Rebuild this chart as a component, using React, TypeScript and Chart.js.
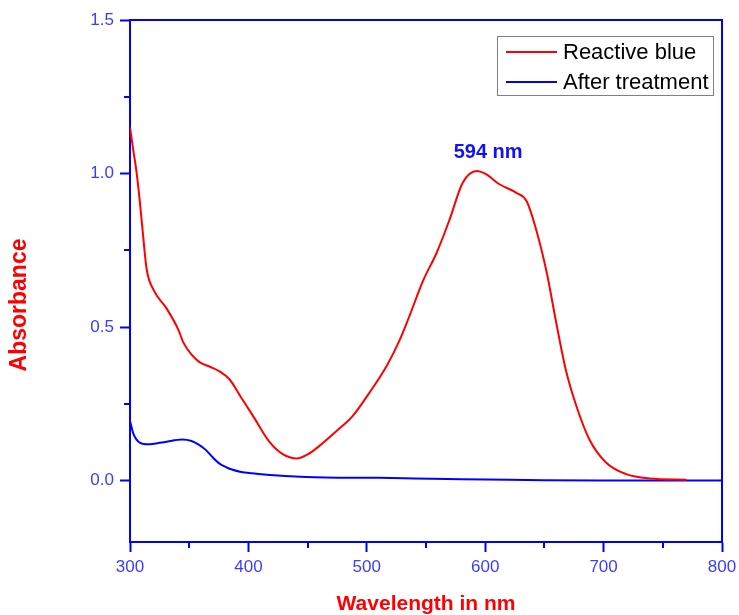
import React, { useEffect, useRef } from "react";
import { Chart, registerables } from "chart.js";

Chart.register(...registerables);

// ---- data ----
const redWavelength = [300, 303, 305, 308, 311, 314, 320, 331, 341, 345, 352, 359, 368, 376, 384, 394, 404, 418, 429, 441, 450, 460, 474, 488, 502, 517, 528, 536, 548, 559, 570, 581, 593, 601, 612, 626, 635, 643, 652, 660, 668, 677, 688, 702, 719, 739, 770];
const redAbsorbance = [1.15, 1.07, 1.02, 0.92, 0.8, 0.69, 0.62, 0.56, 0.49, 0.45, 0.41, 0.385, 0.37, 0.355, 0.33, 0.27, 0.21, 0.125, 0.086, 0.072, 0.085, 0.113, 0.16, 0.21, 0.285, 0.375, 0.46, 0.536, 0.655, 0.742, 0.851, 0.97, 1.008, 0.997, 0.965, 0.938, 0.91, 0.818, 0.677, 0.514, 0.362, 0.243, 0.134, 0.059, 0.021, 0.007, 0.003];

const blueWavelength = [300, 303, 308, 315, 322, 330, 344, 352, 358, 364, 370, 375, 381, 386, 394, 403, 431, 465, 510, 540, 580, 620, 650, 700, 800];
const blueAbsorbance = [0.194, 0.151, 0.124, 0.118, 0.121, 0.126, 0.134, 0.129, 0.117, 0.1, 0.075, 0.057, 0.044, 0.036, 0.028, 0.024, 0.015, 0.01, 0.009, 0.007, 0.004, 0.003, 0.001, 0.0, 0.0];

const seriesNames = ["Reactive blue", "After treatment"];
const seriesColors = ["#ff0000", "#0000ff"];

const xMajorTicks = [300, 400, 500, 600, 700, 800];
const xMinorTicks = [350, 450, 550, 650, 750];
const yMajorTicks = [0.0, 0.5, 1.0, 1.5];
const yMinorTicks = [0.25, 0.75, 1.25];

const peakWavelength = 594;
const peakLabel = "594 nm";
const xTitle = "Wavelength in nm";
const yTitle = "Absorbance";

const AXIS = "#0000ff";
const TICKTEXT = "#3c3cff";
const FONT = "'Liberation Sans', Arial, sans-serif";

const decorPlugin = {
  id: "decor",
  afterDraw(chart: any) {
    const { ctx, chartArea } = chart;
    const xs = chart.scales.x;
    const ys = chart.scales.y;
    ctx.save();
    // top and right frame
    ctx.strokeStyle = AXIS;
    ctx.lineWidth = 2;
    ctx.beginPath();
    ctx.moveTo(chartArea.left, chartArea.top);
    ctx.lineTo(chartArea.right, chartArea.top);
    ctx.lineTo(chartArea.right, chartArea.bottom);
    ctx.stroke();
    // minor ticks
    ctx.beginPath();
    for (const v of xMinorTicks) {
      const px = Math.round(xs.getPixelForValue(v));
      ctx.moveTo(px, chartArea.bottom);
      ctx.lineTo(px, chartArea.bottom + 6);
    }
    for (const v of yMinorTicks) {
      const py = Math.round(ys.getPixelForValue(v));
      ctx.moveTo(chartArea.left, py);
      ctx.lineTo(chartArea.left - 6, py);
    }
    ctx.stroke();

    // peak label
    ctx.fillStyle = "#1010ff";
    ctx.font = `bold 20px ${FONT}`;
    ctx.textAlign = "center";
    ctx.textBaseline = "middle";
    ctx.fillText(peakLabel, xs.getPixelForValue(peakWavelength) + 10, ys.getPixelForValue(1.07));

    // axis titles
    ctx.fillStyle = "#ff0000";
    ctx.font = `bold 21px ${FONT}`;
    ctx.fillText(xTitle, (chartArea.left + chartArea.right) / 2, 604);
    ctx.save();
    ctx.font = `bold 23px ${FONT}`;
    ctx.translate(20, (chartArea.top + chartArea.bottom) / 2 + 24);
    ctx.rotate(-Math.PI / 2);
    ctx.fillText(yTitle, 0, 0);
    ctx.restore();

    // legend
    const boxRight = chartArea.right - 9;
    const boxLeft = boxRight - 216;
    const boxTop = chartArea.top + 16;
    const boxH = 59;
    ctx.fillStyle = "#ffffff";
    ctx.fillRect(boxLeft, boxTop, 216, boxH);
    ctx.strokeStyle = "#808080";
    ctx.lineWidth = 1;
    ctx.strokeRect(boxLeft + 0.5, boxTop + 0.5, 216, boxH);
    ctx.font = `22px ${FONT}`;
    ctx.textAlign = "left";
    ctx.textBaseline = "middle";
    chart.data.datasets.forEach((ds: any, i: number) => {
      const y = boxTop + 16 + i * 30;
      ctx.strokeStyle = ds.borderColor;
      ctx.lineWidth = 2;
      ctx.beginPath();
      ctx.moveTo(boxLeft + 9, y);
      ctx.lineTo(boxLeft + 60, y);
      ctx.stroke();
      ctx.fillStyle = "#000000";
      ctx.fillText(ds.label, boxLeft + 66, y + 1);
    });
    ctx.restore();
  },
};

export default function App() {
  const ref = useRef<HTMLCanvasElement | null>(null);
  useEffect(() => {
    document.body.style.margin = "0";
    const canvas = ref.current!;
    const chart = new Chart(canvas, {
      type: "line",
      data: {
        datasets: [
          {
            label: seriesNames[0],
            data: redWavelength.map((x, i) => ({ x, y: redAbsorbance[i] })),
            borderColor: seriesColors[0],
            borderWidth: 2,
            pointRadius: 0,
            cubicInterpolationMode: "monotone",
            fill: false,
          },
          {
            label: seriesNames[1],
            data: blueWavelength.map((x, i) => ({ x, y: blueAbsorbance[i] })),
            borderColor: seriesColors[1],
            borderWidth: 2,
            pointRadius: 0,
            cubicInterpolationMode: "monotone",
            fill: false,
          },
        ],
      },
      options: {
        responsive: false,
        animation: false,
        layout: { padding: { top: 20, right: 17, left: 0, bottom: 0 } },
        plugins: { legend: { display: false }, tooltip: { enabled: false } },
        scales: {
          x: {
            type: "linear",
            min: 300,
            max: 800,
            afterBuildTicks: (s: any) => {
              s.ticks = xMajorTicks.map((v) => ({ value: v }));
            },
            afterFit: (s: any) => {
              s.height = 73;
              s.paddingLeft = 0;
              s.paddingRight = 0;
            },
            grid: { drawOnChartArea: false, drawTicks: true, tickLength: 10, tickWidth: 2, tickColor: AXIS },
            border: { display: true, color: AXIS, width: 2 },
            ticks: { color: TICKTEXT, font: { family: FONT, size: 17 }, padding: 5, maxRotation: 0 },
          },
          y: {
            type: "linear",
            min: -0.2,
            max: 1.5,
            afterBuildTicks: (s: any) => {
              s.ticks = yMajorTicks.map((v) => ({ value: v }));
            },
            afterFit: (s: any) => {
              s.width = 130;
            },
            grid: { drawOnChartArea: false, drawTicks: true, tickLength: 10, tickWidth: 2, tickColor: AXIS },
            border: { display: true, color: AXIS, width: 2 },
            ticks: {
              color: TICKTEXT,
              font: { family: FONT, size: 17 },
              padding: 6,
              callback: (v: any) => Number(v).toFixed(1),
            },
          },
        },
      },
      plugins: [decorPlugin],
    });
    return () => chart.destroy();
  }, []);
  return <canvas ref={ref} width={739} height={615} style={{ display: "block", width: 739, height: 615 }} />;
}
